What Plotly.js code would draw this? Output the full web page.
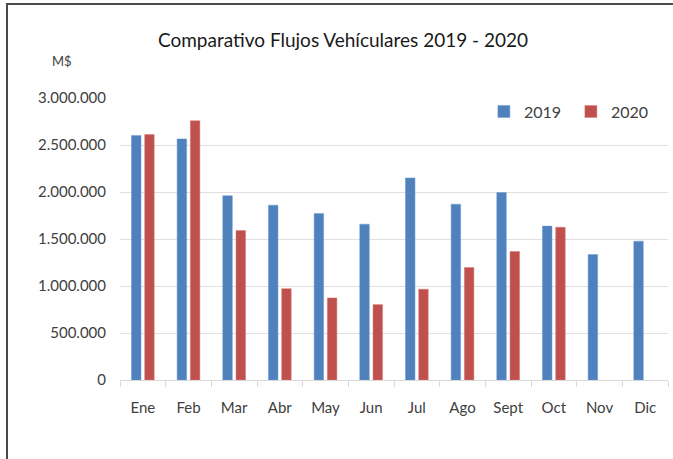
<!DOCTYPE html>
<html>
<head>
<meta charset="utf-8">
<script src="https://cdn.plot.ly/plotly-3.0.1.min.js"></script>
<style>
  html, body { margin: 0; padding: 0; background: #fff; }
  #wrap { position: relative; width: 673px; height: 459px; overflow: hidden; }
  #chart { position: absolute; left: 0; top: 0; width: 673px; height: 459px; }
  #frame { position: absolute; left: 6px; top: 3px; width: 680px; height: 470px;
           border-top: 2px solid #4a4a4a; border-left: 2px solid #4a4a4a; pointer-events: none; }
</style>
</head>
<body>
<div id="wrap">
  <div id="chart"></div>
  <div id="frame"></div>
</div>
<script>
const months = ["Ene", "Feb", "Mar", "Abr", "May", "Jun", "Jul", "Ago", "Sept", "Oct", "Nov", "Dic"];
const values2019 = [2600000, 2565000, 1960000, 1860000, 1770000, 1658000, 2150000, 1870000, 1995000, 1637000, 1334000, 1477000];
const values2020 = [2612000, 2758000, 1590000, 972000, 873000, 802000, 966000, 1196000, 1366000, 1626000, null, null];
const yTicks = [0, 500000, 1000000, 1500000, 2000000, 2500000, 3000000];

const font = "Lato, 'Open Sans', sans-serif";

const data = [
  { type: "bar", name: "2019", x: months, y: values2019,
    marker: { color: "#4f81bd", line: { color: "#6f9bd0", width: 0.5 } }, hoverinfo: "none" },
  { type: "bar", name: "2020", x: months, y: values2020,
    marker: { color: "#c0504d", line: { color: "#d67a77", width: 0.5 } }, hoverinfo: "none" }
];

const layout = {
  width: 673, height: 459,
  margin: { l: 120, r: 5, t: 98, b: 79, autoexpand: false },
  paper_bgcolor: "rgba(0,0,0,0)", plot_bgcolor: "#fff",
  separators: ",.",
  barmode: "group", bargap: 0.42, bargroupgap: 0.28,
  showlegend: true,
  legend: { orientation: "h", xref: "container", yref: "container", x: 0.719, y: 0.757,
            xanchor: "left", yanchor: "middle",
            font: { family: font, size: 16, color: "#404040" }, bgcolor: "rgba(0,0,0,0)",
            itemwidth: 30, entrywidth: 42, entrywidthmode: "pixels", traceorder: "normal" },
  title: { text: "Comparativo Flujos Vehículares 2019 - 2020",
           font: { family: font, size: 19, color: "#1a1a1a" },
           x: 0.407, xref: "paper", y: 0.913, yref: "container", xanchor: "center", yanchor: "middle" },
  xaxis: { type: "category", showgrid: false, showline: true, linecolor: "#d9d9d9", linewidth: 1,
           ticks: "outside", tickson: "boundaries", ticklen: 6, tickcolor: "#d9d9d9",
           tickangle: 0, automargin: false,
           tickfont: { family: font, size: 15, color: "#404040" }, ticklabelstandoff: 14,
           fixedrange: true },
  yaxis: { range: [0, 3000000], tickvals: yTicks, tickformat: ",d", automargin: false,
           showgrid: true, gridcolor: "#e0e0e0", gridwidth: 1, zeroline: false,
           showline: false, ticks: "", ticklabelstandoff: 13,
           tickfont: { family: font, size: 15, color: "#404040" }, fixedrange: true },
  annotations: [
    { text: "M$", xref: "paper", yref: "paper", x: -0.105, y: 1.13, xanchor: "center", yanchor: "middle",
      showarrow: false, font: { family: font, size: 13, color: "#404040" } }
  ]
};

Plotly.newPlot("chart", data, layout, { displayModeBar: false, staticPlot: true });
</script>
</body>
</html>
